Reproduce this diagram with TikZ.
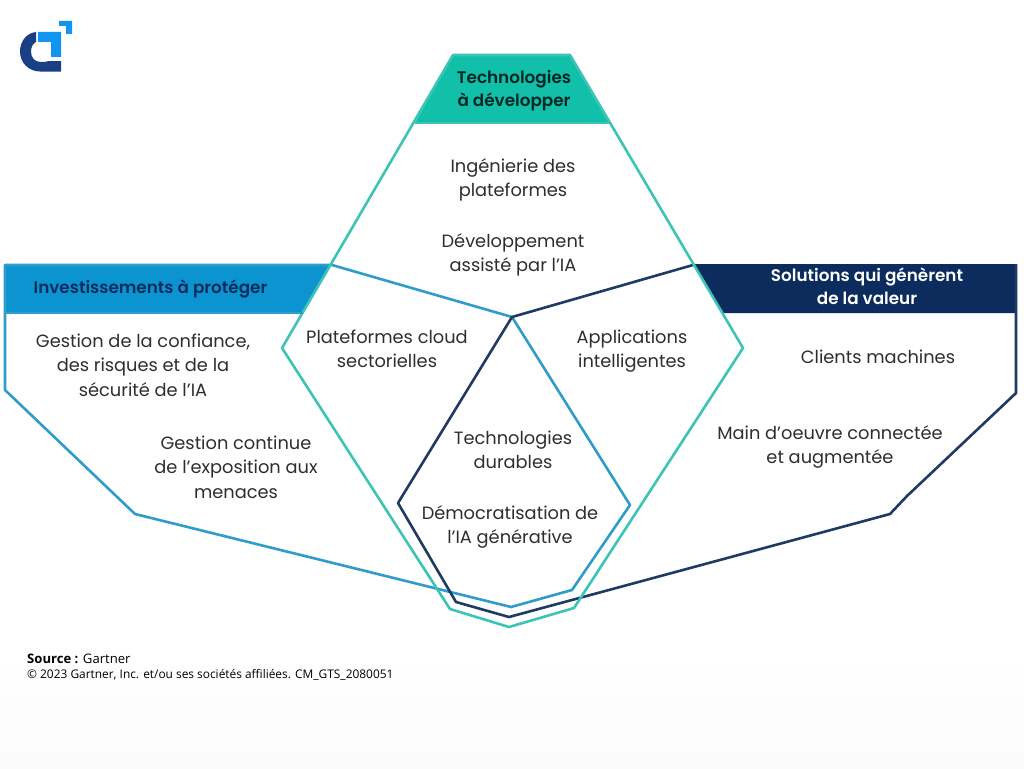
\documentclass[tikz,border=0pt]{standalone}
\usepackage{fontspec}
\setmainfont{Poppins}
\newfontfamily\srcfont{Open Sans}
\newfontfamily\headfont{Poppins SemiBold}
\definecolor{tealc}{HTML}{12BFA8}
\definecolor{tealline}{HTML}{3CC4B4}
\definecolor{bluec}{HTML}{0C94D0}
\definecolor{blueline}{HTML}{2F9CCB}
\definecolor{navyc}{HTML}{0B2C5C}
\definecolor{navyline}{HTML}{1F3A63}
\definecolor{bodyc}{HTML}{2E2E2E}
\definecolor{logoblue}{HTML}{1195F0}
\definecolor{logonavy}{HTML}{1B3F85}
\tikzset{
  lab/.style={align=center,text=bodyc,font=\fontsize{17.8}{24.5}\selectfont,inner sep=0pt},
  head/.style={align=center,font=\fontsize{16.8}{23}\selectfont\headfont,inner sep=0pt},
  outline/.style={line width=2.6pt,line join=round}
}
\begin{document}
\begin{tikzpicture}[x=1pt,y=-1pt]
\useasboundingbox (0,0) rectangle (1024,768);
\fill[white] (0,0) rectangle (1024,768);
\fill[top color=white,bottom color=black!1.5] (0,650) rectangle (1024,768);
% header fills
\fill[tealc] (453,55) -- (570,55) -- (609,123) -- (415,123) -- cycle;
\fill[bluec] (5,265) -- (331,265) -- (303,313) -- (5,313) -- cycle;
\fill[navyc] (693,264) -- (1016,264) -- (1016,313) -- (723,313) -- cycle;
% outlines
\draw[outline,blueline] (5,265) -- (332,265) -- (512,317) -- (630,505) -- (572,590) -- (511,607) -- (135,514) -- (5,390) -- cycle;
\draw[outline,navyline] (693,265) -- (512,317) -- (398,503) -- (456,602) -- (509,617) -- (890,514) -- (907,496) -- (1016,393) -- (1016,264);
\draw[outline,tealline] (453,55) -- (570,55) -- (743,348) -- (574,608) -- (509,627) -- (450,609) -- (282,348) -- cycle;
\draw[line width=2pt,tealline] (415,123) -- (609,123);
\draw[line width=1.5pt,blueline] (5,313) -- (303,313);
% logo
\fill[logonavy] (36,32) .. controls (26,33) and (20,42) .. (20,51.5) .. controls (20,63) and (29,71.5) .. (40,71.5) -- (61,71.5) -- (61,61) -- (49,61) .. controls (46,61.8) and (44,62) .. (41,62) .. controls (34,62) and (31,57) .. (31,51.5) .. controls (31,47) and (33,43.5) .. (36,42) -- cycle;
\fill[logoblue] (38,32) -- (61,32) -- (61,57) -- (51,57) -- (51,42) -- (38,42) -- cycle;
\fill[logoblue] (59,21) -- (72,21) -- (72,34) -- (66,34) -- (66,26) -- (59,26) -- cycle;
% headers
\node[head,text=black!70!teal] (h1) at (514,91) {Technologies\\à développer};
\node[head,text=navyc] (h2) at (150.5,289) {Investissements à protéger};
\node[head,text=white] (h3) at (867,286.5) {Solutions qui génèrent\\de la valeur};
% labels
\node[lab] (a1) at (513,180) {Ingénierie des\\plateformes};
\node[lab] (a2) at (513,255) {Développement\\assisté par l’IA};
\node[lab] (b1) at (143,365) {Gestion de la confiance,\\des risques et de la\\sécurité de l’IA};
\node[lab] (b2) at (236,467) {Gestion continue\\de l’exposition aux\\menaces};
\node[lab] (c1) at (387,349) {Plateformes cloud\\sectorielles};
\node[lab] (c2) at (632,351) {Applications\\intelligentes};
\node[lab] (d1) at (513,450) {Technologies\\durables};
\node[lab] (d2) at (510,527) {Démocratisation de\\l’IA générative};
\node[lab] (e1) at (878,357) {Clients machines};
\node[lab] (e2) at (830,447) {Main d’oeuvre connectée\\et augmentée};
% source
\node[anchor=west,inner sep=0pt,font=\fontsize{13.1}{15}\selectfont\srcfont] (s1) at (27,658.5) {\textbf{Source :} Gartner};
\node[anchor=west,inner sep=0pt,font=\fontsize{11.9}{14}\selectfont\srcfont] (s2) at (27,675) {© 2023 Gartner, Inc. et/ou ses sociétés affiliées. CM\_GTS\_2080051};
\end{tikzpicture}
\end{document}
